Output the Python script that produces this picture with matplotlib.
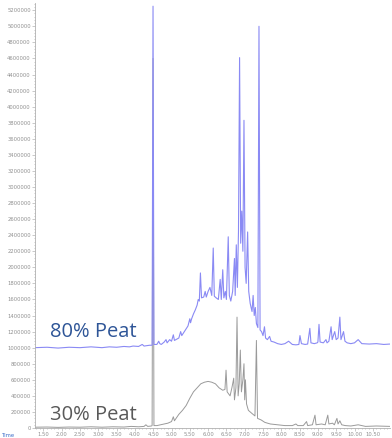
import matplotlib.pyplot as plt
from matplotlib.ticker import MultipleLocator, FormatStrFormatter

# 80% peat trace (time in min, abundance in millions)
t80 = [1.27, 1.6, 1.9, 2.2, 2.5, 2.8, 3.1, 3.3, 3.5, 3.7, 3.85, 3.95, 4.1, 4.2, 4.25, 4.4,
       4.47, 4.495, 4.52, 4.6, 4.65, 4.68, 4.72, 4.8, 4.85, 4.88, 4.95, 5.0, 5.05, 5.08,
       5.2, 5.25, 5.28, 5.38, 5.45, 5.5, 5.52, 5.55, 5.6, 5.65, 5.7, 5.73, 5.76, 5.79, 5.82,
       5.88, 5.92, 5.95, 6.0, 6.05, 6.1, 6.14, 6.17, 6.22, 6.28, 6.33, 6.36, 6.40, 6.43,
       6.47, 6.5, 6.55, 6.58, 6.62, 6.67, 6.72, 6.74, 6.77, 6.80, 6.83, 6.86, 6.89, 6.92,
       6.95, 6.98, 7.01, 7.04, 7.08, 7.11, 7.15, 7.2, 7.23, 7.26, 7.29, 7.32, 7.36, 7.39,
       7.42, 7.46, 7.5, 7.54, 7.57, 7.62, 7.68, 7.72, 7.8, 7.9, 8.0, 8.1, 8.2, 8.3, 8.4,
       8.48, 8.51, 8.55, 8.65, 8.72, 8.78, 8.81, 8.9, 8.98, 9.0, 9.03, 9.06, 9.15, 9.22,
       9.25, 9.3, 9.36, 9.39, 9.43, 9.46, 9.5, 9.55, 9.60, 9.63, 9.7, 9.74, 9.8, 9.9, 10.0,
       10.1, 10.2, 10.4, 10.6, 10.8, 10.97]
y80 = [1.00, 1.005, 0.995, 1.005, 1.00, 1.01, 1.00, 1.01, 1.005, 1.015, 1.01, 1.02, 1.015,
       1.04, 1.02, 1.03, 1.03, 5.25, 1.04, 1.04, 1.08, 1.05, 1.04, 1.07, 1.10, 1.06, 1.10,
       1.08, 1.16, 1.09, 1.12, 1.20, 1.15, 1.22, 1.27, 1.36, 1.31, 1.36, 1.42, 1.47, 1.53,
       1.60, 1.58, 1.93, 1.62, 1.63, 1.70, 1.63, 1.70, 1.75, 1.65, 2.24, 1.64, 1.62, 1.60,
       1.85, 1.60, 1.97, 1.62, 1.70, 1.60, 2.38, 1.65, 1.58, 1.70, 2.11, 1.65, 2.28, 1.75,
       2.45, 4.61, 2.30, 2.70, 2.20, 3.83, 2.00, 1.80, 2.44, 1.70, 1.55, 1.45, 1.65, 1.40,
       1.50, 1.30, 1.25, 5.00, 1.22, 1.20, 1.15, 1.26, 1.12, 1.10, 1.14, 1.08, 1.07, 1.05,
       1.04, 1.05, 1.08, 1.04, 1.035, 1.04, 1.15, 1.05, 1.04, 1.045, 1.24, 1.06, 1.05, 1.06,
       1.07, 1.29, 1.07, 1.06, 1.10, 1.06, 1.08, 1.26, 1.10, 1.16, 1.20, 1.10, 1.12, 1.38,
       1.10, 1.20, 1.08, 1.06, 1.05, 1.06, 1.10, 1.05, 1.045, 1.05, 1.04, 1.045]

# 30% peat trace
t30 = [1.27, 1.6, 1.9, 2.2, 2.5, 2.8, 3.1, 3.4, 3.7, 3.9, 4.1, 4.25, 4.3, 4.35, 4.45,
       4.47, 4.495, 4.52, 4.6, 4.7, 4.8, 4.9, 5.0, 5.05, 5.08, 5.2, 5.3, 5.4, 5.5, 5.6,
       5.7, 5.8, 5.9, 6.0, 6.1, 6.2, 6.3, 6.4, 6.46, 6.49, 6.52, 6.6, 6.65, 6.7, 6.72, 6.76,
       6.79, 6.82, 6.85, 6.88, 6.91, 6.95, 6.98, 7.0, 7.02, 7.05, 7.1, 7.2, 7.28, 7.32,
       7.35, 7.45, 7.55, 7.7, 7.9, 8.1, 8.3, 8.4, 8.45, 8.6, 8.69, 8.72, 8.85, 8.92, 8.95,
       9.1, 9.2, 9.27, 9.3, 9.4, 9.45, 9.52, 9.55, 9.6, 9.65, 9.75, 9.9, 10.1, 10.3, 10.6,
       10.97]
y30 = [0.01, 0.012, 0.008, 0.012, 0.01, 0.015, 0.01, 0.015, 0.012, 0.02, 0.015, 0.02,
       0.04, 0.02, 0.025, 0.03, 4.60, 0.03, 0.03, 0.04, 0.05, 0.06, 0.08, 0.14, 0.09, 0.17,
       0.22, 0.28, 0.37, 0.45, 0.50, 0.55, 0.57, 0.58, 0.57, 0.55, 0.50, 0.47, 0.48, 0.72,
       0.45, 0.40, 0.50, 0.62, 0.35, 0.50, 1.38, 0.40, 0.55, 0.97, 0.45, 0.60, 0.80, 0.35,
       0.60, 0.30, 0.22, 0.18, 0.15, 1.09, 0.12, 0.10, 0.07, 0.05, 0.04, 0.03, 0.03, 0.05,
       0.03, 0.03, 0.08, 0.03, 0.04, 0.16, 0.04, 0.05, 0.04, 0.16, 0.05, 0.06, 0.04, 0.12,
       0.05, 0.09, 0.04, 0.03, 0.025, 0.04, 0.02, 0.025, 0.02]

y80 = [v * 1e6 for v in y80]
y30 = [v * 1e6 for v in y30]

fig = plt.figure(figsize=(3.92, 4.38), dpi=100)
ax = fig.add_axes([35 / 392, 10 / 438, 355 / 392, 425 / 438])

ax.plot(t30, y30, color="#9a9a9a", lw=0.7)
ax.plot(t80, y80, color="#8a8af4", lw=0.8)

ax.set_xlim(1.27, 10.97)
ax.set_ylim(0, 5290000)

for s in ["top", "right"]:
    ax.spines[s].set_visible(False)
for s in ["left", "bottom"]:
    ax.spines[s].set_color("#b0b0b0")
    ax.spines[s].set_linewidth(0.6)

ax.yaxis.set_major_locator(MultipleLocator(200000))
ax.yaxis.set_minor_locator(MultipleLocator(40000))
ax.yaxis.set_major_formatter(FormatStrFormatter("%d"))
ax.xaxis.set_major_locator(MultipleLocator(0.5))
ax.xaxis.set_minor_locator(MultipleLocator(0.1))
ax.xaxis.set_major_formatter(FormatStrFormatter("%.2f"))
ax.tick_params(which="both", colors="#a0a0a0", labelcolor="#909090", labelsize=3.8,
               width=0.4, pad=1)
ax.tick_params(which="major", length=2)
ax.tick_params(which="minor", length=1)

fig.text(0.005, 0.003, "Time", color="#3a6cc8", fontsize=3.8)

ax.text(1.68, 1200000, "80% Peat", color="#2e5597", fontsize=14.5, family="Open Sans",
        va="center")
ax.text(1.68, 160000, "30% Peat", color="#595959", fontsize=14.5, family="Open Sans",
        va="center")

fig.savefig("out.png", dpi=100)
